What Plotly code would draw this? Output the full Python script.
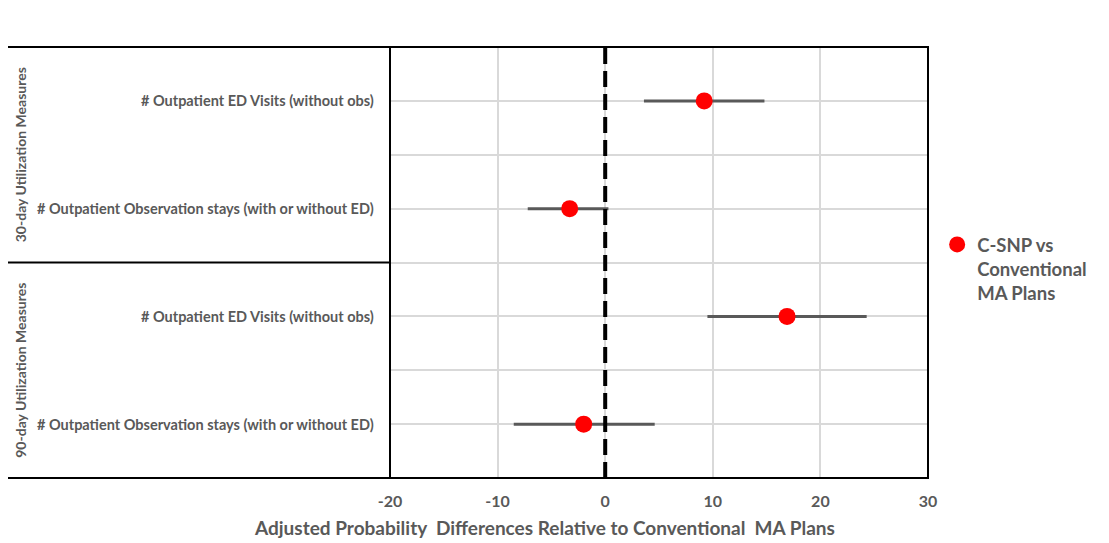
import plotly.graph_objects as go

measures = [
    "# Outpatient ED Visits (without obs)",
    "# Outpatient Observation stays (with or without ED)",
    "# Outpatient ED Visits (without obs)",
    "# Outpatient Observation stays (with or without ED)",
]
groups = ["30-day Utilization Measures", "90-day Utilization Measures"]
row_pos = [3.5, 2.5, 1.5, 0.5]
estimates = [9.2, -3.3, 16.9, -2.0]
ci_low = [3.6, -7.2, 9.5, -8.5]
ci_high = [14.8, 0.3, 24.3, 4.6]
x_ticks = [-20, -10, 0, 10, 20, 30]
x_tick_text = ["-20", "-10", "0", "10", "20", "30"]
series_name = "C-SNP vs<br>Conventional<br>MA Plans"
x_title = "Adjusted Probability  Differences Relative to Conventional  MA Plans"

FONT = "Lato"
GRAY = "#595959"

fig = go.Figure()
fig.add_trace(go.Scatter(
    x=estimates, y=row_pos, mode="markers", name=series_name,
    marker=dict(color="#ff0000", size=17, line=dict(width=0)),
    error_x=dict(type="data", symmetric=False,
                 array=[h - e for h, e in zip(ci_high, estimates)],
                 arrayminus=[e - l for l, e in zip(ci_low, estimates)],
                 color=GRAY, thickness=3, width=0),
    showlegend=True,
))

# page body has an 8px margin, compensate
W, H = 1101, 535
L, T = 382, 39
pw, ph = 538, 431
R = W - L - pw
B = H - T - ph

shapes = [
    dict(type="line", xref="x", yref="paper", x0=0, x1=0, y0=0, y1=1,
         line=dict(color="black", width=4, dash="16px,7px"), layer="above"),
    dict(type="rect", xref="paper", yref="paper", x0=0, x1=1, y0=0, y1=1,
         line=dict(color="black", width=2)),
    dict(type="line", xref="paper", yref="paper", x0=-L / pw, x1=0, y0=1, y1=1,
         line=dict(color="black", width=2)),
    dict(type="line", xref="paper", yref="paper", x0=-L / pw, x1=0, y0=0, y1=0,
         line=dict(color="black", width=2)),
    dict(type="line", xref="paper", yref="y", x0=-L / pw, x1=0, y0=2, y1=2,
         line=dict(color="black", width=2)),
]

annotations = []
for m, y in zip(measures, row_pos):
    annotations.append(dict(text=m, xref="paper", yref="y", x=0, y=y,
                            xanchor="right", yanchor="middle", xshift=-14,
                            showarrow=False,
                            font=dict(family=FONT, size=14.5, color=GRAY, weight="bold")))
for g, y in zip(groups, [3, 1]):
    annotations.append(dict(text=g, xref="paper", yref="y", x=-L / pw, y=y,
                            xanchor="left", yanchor="middle", xshift=2,
                            textangle=-90, showarrow=False,
                            font=dict(family=FONT, size=14, color=GRAY, weight="bold")))
annotations.append(dict(text=x_title, xref="paper", yref="paper", x=0.288, y=0,
                        xanchor="center", yanchor="middle", yshift=-49,
                        showarrow=False,
                        font=dict(family=FONT, size=19, color=GRAY, weight="bold")))

fig.update_layout(
    width=W, height=H,
    margin=dict(l=L, r=R, t=T, b=B),
    paper_bgcolor="white", plot_bgcolor="white",
    font=dict(family=FONT, color=GRAY),
    xaxis=dict(range=[-20, 30], tickvals=x_ticks, ticktext=x_tick_text, showgrid=True,
               gridcolor="#d9d9d9", gridwidth=2, zeroline=False,
               ticks="", showline=False, ticklabelstandoff=12,
               tickfont=dict(family=FONT, size=16, color=GRAY, weight="bold")),
    yaxis=dict(range=[0, 4], tickvals=[0.5, 1, 1.5, 2, 2.5, 3, 3.5], showticklabels=False,
               showgrid=True, gridcolor="#d9d9d9", gridwidth=2, zeroline=False,
               showline=False, ticks=""),
    shapes=shapes,
    annotations=annotations,
    legend=dict(x=1.017, y=0.585, xanchor="left", yanchor="top", valign="top",
                font=dict(family=FONT, size=18.5, color=GRAY, weight="bold"),
                itemwidth=30, bgcolor="rgba(0,0,0,0)"),
)

fig.write_html("out.html")
